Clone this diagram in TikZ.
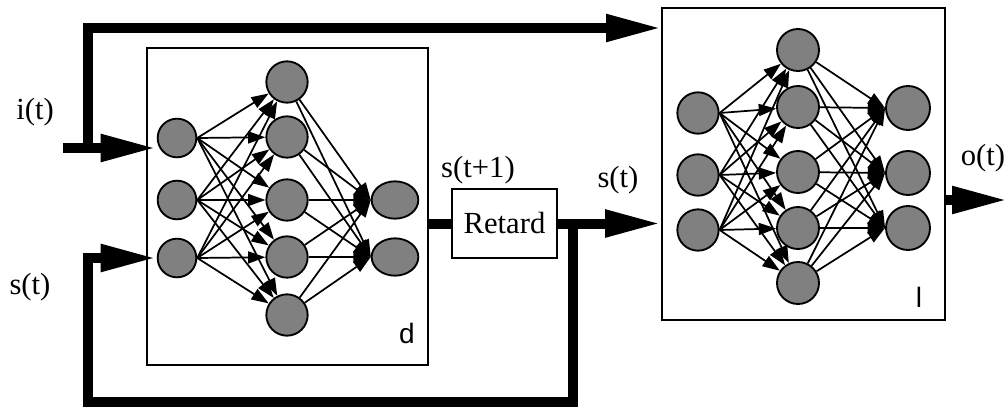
\documentclass[tikz,border=0pt]{standalone}
\usepackage{fontspec}
\setmainfont{Liberation Serif}
\newfontfamily\labelserif{Liberation Serif}
\newfontfamily\labelsans{Liberation Sans}
\usetikzlibrary{arrows.meta,shapes.geometric,positioning,calc}

\tikzset{
  neuron/.style={draw, circle, fill=gray, line width=1.4pt, minimum size=30pt, inner sep=0pt},
  outneuron/.style={draw, ellipse, fill=gray, line width=1.4pt, minimum width=35pt, minimum height=28pt, inner sep=0pt},
  synapse/.style={line width=1.3pt, -{Triangle[length=13pt,width=9pt]}},
  bus/.style={line width=7.5pt},
  busarrow/.style={bus, -{Triangle[length=42pt,width=19pt]}},
  netbox/.style={draw, rectangle, line width=1.2pt, inner sep=0pt},
  lbl/.style={font=\labelserif\fontsize{23}{26}\selectfont},
  boxlbl/.style={font=\labelsans\fontsize{21}{24}\selectfont},
}

\begin{document}
\begin{tikzpicture}[x=0.75pt, y={(0pt,-0.75pt)}]
    \useasboundingbox (0,0) rectangle (1008,407);

    % Boxes
    \node[netbox, minimum width=210.75pt, minimum height=237.75pt] (dbox) at (287.5,206.5) {};
    \node[netbox, minimum width=212.25pt, minimum height=234pt] (lbox) at (803.5,164) {};
    \node[draw, line width=1.2pt, minimum width=78.75pt, minimum height=51.75pt, lbl] (retard) at (504.5,223.5) {Retard};

    % Network d
    \foreach \y [count=\i] in {138,200,258}
        \node[neuron, minimum size=29pt] (din\i) at (177,\y) {};
    \foreach \y [count=\i] in {82,137,200,257,315}
        \node[neuron, minimum size=31pt] (dhid\i) at (287,\y) {};
    \foreach \y [count=\i] in {200,257}
        \node[outneuron] (dout\i) at (395,\y) {};

    \foreach \i in {1,2,3}
        \foreach \j in {1,...,5}
            \draw[synapse] (din\i.east) -- (dhid\j);
    \foreach \i in {1,...,5}
        \foreach \j in {1,2}
            \draw[synapse] (dhid\i) -- (dout\j.west);

    % Network l
    \foreach \y [count=\i] in {113,175,230}
        \node[neuron, minimum size=31pt] (lin\i) at (698,\y) {};
    \foreach \y [count=\i] in {50,107,172,228,283}
        \node[neuron, minimum size=31.5pt] (lhid\i) at (798,\y) {};
    \foreach \y [count=\i] in {108,173,228}
        \node[neuron, minimum size=33pt] (lout\i) at (908,\y) {};

    \foreach \i in {1,2,3}
        \foreach \j in {1,...,5}
            \draw[synapse] (lin\i.east) -- (lhid\j);
    \foreach \i in {1,...,5}
        \foreach \j in {1,2,3}
            \draw[synapse] (lhid\i) -- (lout\j.west);

    % Signal lines
    \coordinate (iin) at (63,148);
    \coordinate (isplit) at (88,148);
    \coordinate (ltop) at (662,28);
    \coordinate (ssplit) at ($(retard.east)+(15,0)$);
    \coordinate (sloop) at (88,402);
    \coordinate (oout) at (1008,200);

    \draw[busarrow] (iin) -- (din1.west |- iin);
    \draw[busarrow] (isplit) |- (ltop);
    \draw[bus] (retard.west -| dbox.east) -- (retard.west);
    \draw[busarrow] (retard.east) -- (retard.east -| lbox.west);
    \draw[busarrow] (ssplit) |- (sloop) |- (din3.west);
    \draw[busarrow] (oout -| lbox.east) -- (oout);

    % Labels
    \node[lbl] (itlbl) at (35,112) {i(t)};
    \node[lbl] (stlbl) at (30,287) {s(t)};
    \node[lbl] (snextlbl) at (478,170) {s(t+1)};
    \node[lbl] (strightlbl) at (618,180) {s(t)};
    \node[lbl] (otlbl) at (983,158) {o(t)};
    \node[boxlbl] (dlbl) at (407,333) {d};
    \node[boxlbl] (llbl) at (919,297) {l};

\end{tikzpicture}
\end{document}
